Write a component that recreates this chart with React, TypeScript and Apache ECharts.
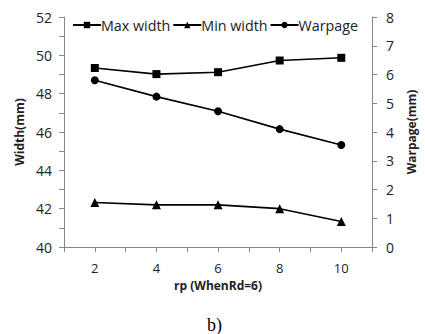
import React, { useEffect, useRef } from "react";
import * as echarts from "echarts";

const rpValues = [2, 4, 6, 8, 10];
const maxWidth = [49.34, 49.02, 49.12, 49.73, 49.87];
const minWidth = [42.32, 42.2, 42.2, 42.0, 41.33];
const warpage = [5.8, 5.23, 4.72, 4.1, 3.55];

const seriesNames = ["Max width", "Min width", "Warpage"];
const xTitle = "rp (WhenRd=6)";
const yLeftTitle = "Width(mm)";
const yRightTitle = "Warpage(mm)";
const caption = "b)";

const FONT = "'Open Sans', 'Noto Sans', sans-serif";

export default function App() {
  const ref = useRef<HTMLDivElement>(null);
  useEffect(() => {
    if (!ref.current) return;
    const chart = echarts.init(ref.current, null, { renderer: "svg" });
    const pair = (arr: number[]) => rpValues.map((x, i) => [x, arr[i]]);
    const lineStyle = { color: "#000", width: 1.6 };
    const axisLine = { show: true, lineStyle: { color: "#868686", width: 1 } };
    chart.setOption({
      animation: false,
      textStyle: { fontFamily: FONT },
      grid: { left: 64, right: 51, top: 17, bottom: 87, containLabel: false },
      legend: {
        top: 18,
        left: 72,
        padding: 0,
        itemGap: 2,
        itemWidth: 28,
        itemHeight: 8,
        textStyle: { fontFamily: FONT, fontSize: 14.3, color: "#222", padding: [0, 0, 0, -5] },
        data: seriesNames,
      },
      xAxis: {
        type: "value",
        min: 1,
        max: 11,
        interval: 1,
        axisLine,
        axisTick: { show: true, length: 5, lineStyle: { color: "#868686" } },
        splitLine: { show: false },
        axisLabel: {
          fontSize: 13,
          color: "#222",
          margin: 14,
          formatter: (v: number) => (v % 2 === 0 ? String(v) : ""),
        },
        name: xTitle,
        nameLocation: "middle",
        nameGap: 32,
        nameTextStyle: { fontSize: 12, fontWeight: "bold", color: "#222", fontFamily: FONT },
      },
      yAxis: [
        {
          type: "value",
          min: 40,
          max: 52,
          interval: 1,
          axisLine,
          axisTick: { show: true, length: 5, lineStyle: { color: "#868686" } },
          splitLine: { show: false },
          axisLabel: {
            fontSize: 14,
            color: "#222",
            margin: 12,
            formatter: (v: number) => (v % 2 === 0 ? String(v) : ""),
          },
          name: yLeftTitle,
          nameLocation: "middle",
          nameGap: 38,
          nameTextStyle: { fontSize: 12, fontWeight: "bold", color: "#222", fontFamily: FONT },
        },
        {
          type: "value",
          min: 0,
          max: 8,
          interval: 1,
          position: "right",
          axisLine,
          axisTick: { show: true, length: 5, lineStyle: { color: "#868686" } },
          splitLine: { show: false },
          axisLabel: { fontSize: 14, color: "#222", margin: 14 },
          name: yRightTitle,
          nameLocation: "middle",
          nameGap: 32,
          nameTextStyle: { fontSize: 12, fontWeight: "bold", color: "#222", fontFamily: FONT },
        },
      ],
      series: [
        {
          name: seriesNames[0],
          type: "line",
          yAxisIndex: 0,
          data: pair(maxWidth),
          symbol: "rect",
          symbolSize: 8,
          itemStyle: { color: "#000" },
          lineStyle,
        },
        {
          name: seriesNames[1],
          type: "line",
          yAxisIndex: 0,
          data: pair(minWidth),
          symbol: "triangle",
          symbolSize: 9,
          itemStyle: { color: "#000" },
          lineStyle,
        },
        {
          name: seriesNames[2],
          type: "line",
          yAxisIndex: 1,
          data: pair(warpage),
          symbol: "circle",
          symbolSize: 8,
          itemStyle: { color: "#000" },
          lineStyle,
        },
      ],
      graphic: [
        {
          type: "text",
          left: 207,
          top: 316,
          style: {
            text: caption,
            font: "18px 'Liberation Serif', 'DejaVu Serif', serif",
            fill: "#000",
          },
        },
      ],
    });
    return () => chart.dispose();
  }, []);
  return <div ref={ref} style={{ width: 425, height: 334, position: "absolute", left: 0, top: 0 }} />;
}
